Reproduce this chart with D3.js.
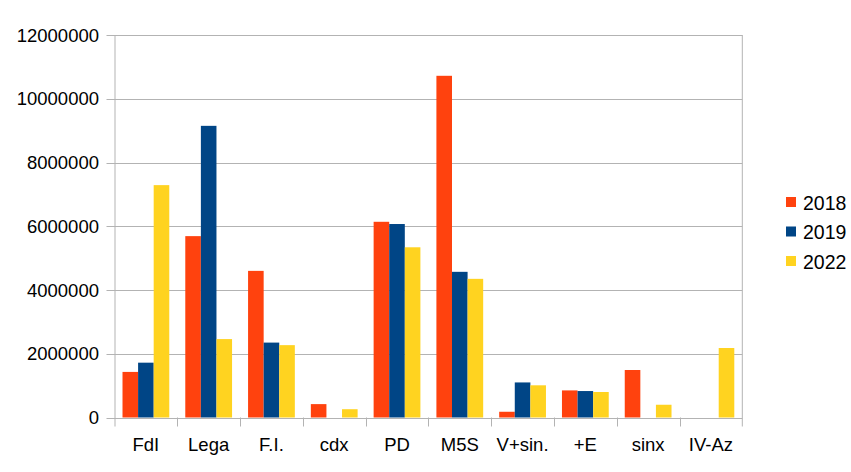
<!DOCTYPE html>
<html>
<head>
  <script src="https://d3js.org/d3.v7.min.js"></script>
  <style>
    body { margin: 0; padding: 0; background: white; }
    svg { display: block; font-family: 'Liberation Sans', Arial, sans-serif; }
  </style>
</head>
<body>
  <svg id="chart" width="851" height="472"></svg>
  <script>
    const categories = ["FdI", "Lega", "F.I.", "cdx", "PD", "M5S", "V+sin.", "+E", "sinx", "IV-Az"];
    const years = ["2018", "2019", "2022"];
    const v2018 = [1430000, 5690000, 4600000, 420000, 6140000, 10720000, 180000, 850000, 1490000, 0];
    const v2019 = [1720000, 9150000, 2350000, 0, 6070000, 4570000, 1100000, 830000, 0, 0];
    const v2022 = [7290000, 2460000, 2270000, 260000, 5340000, 4350000, 1010000, 800000, 400000, 2180000];
    const yTicks = [0, 2000000, 4000000, 6000000, 8000000, 10000000, 12000000];
    const colors = ["#ff420e", "#004586", "#ffd320"];

    const series = [v2018, v2019, v2022];
    const svg = d3.select("#chart");
    const plotL = 114.5, plotR = 742.3, plotT = 35, plotB = 417.5;

    const x = d3.scaleBand().domain(categories).range([plotL, plotR])
      .paddingInner(0.255).paddingOuter(0.1275);
    const xi = d3.scaleBand().domain(years).range([0, x.bandwidth()]);
    const y = d3.scaleLinear().domain([0, 12000000]).range([plotB, plotT]);

    // grid lines
    svg.append("g").selectAll("line").data(yTicks).join("line")
      .attr("x1", plotL - 8).attr("x2", plotR)
      .attr("y1", d => Math.round(y(d)) + 0.5).attr("y2", d => Math.round(y(d)) + 0.5)
      .attr("stroke", "#b3b3b3").attr("stroke-width", 1);

    // y labels
    svg.append("g").selectAll("text").data(yTicks).join("text")
      .attr("x", 99).attr("y", d => y(d) + 6.5)
      .attr("text-anchor", "end").attr("font-size", 18.5).attr("fill", "#000")
      .text(d => d);

    // bars
    const groups = svg.append("g").selectAll("g").data(categories).join("g")
      .attr("transform", d => `translate(${x(d)},0)`);
    groups.selectAll("rect")
      .data((d, i) => years.map((yr, k) => ({ yr, k, v: series[k][i] })))
      .join("rect")
      .attr("x", d => xi(d.yr))
      .attr("width", xi.bandwidth())
      .attr("y", d => y(d.v))
      .attr("height", d => plotB - y(d.v))
      .attr("fill", d => colors[d.k]);

    // axes frame
    svg.append("line").attr("x1", plotL + 0.5).attr("x2", plotL + 0.5)
      .attr("y1", plotT).attr("y2", plotB + 9).attr("stroke", "#b3b3b3");
    svg.append("line").attr("x1", plotR).attr("x2", plotR)
      .attr("y1", plotT).attr("y2", plotB + 9).attr("stroke", "#b3b3b3");
    const step = (plotR - plotL) / categories.length;
    svg.append("g").selectAll("line").data(d3.range(1, categories.length)).join("line")
      .attr("x1", d => Math.round(plotL + d * step) + 0.5).attr("x2", d => Math.round(plotL + d * step) + 0.5)
      .attr("y1", plotB).attr("y2", plotB + 9).attr("stroke", "#b3b3b3");

    // x labels
    svg.append("g").selectAll("text").data(categories).join("text")
      .attr("x", d => x(d) + x.bandwidth() / 2).attr("y", 450.5)
      .attr("text-anchor", "middle").attr("font-size", 18.5).attr("fill", "#000")
      .text(d => d);

    // legend
    const leg = svg.append("g").selectAll("g").data(years).join("g")
      .attr("transform", (d, i) => `translate(786,${197 + i * 29.5})`);
    leg.append("rect").attr("width", 10).attr("height", 10)
      .attr("fill", (d, i) => colors[i]);
    leg.append("text").attr("x", 17).attr("y", 12.5)
      .attr("font-size", 19.5).attr("fill", "#000").text(d => d);
  </script>
</body>
</html>
